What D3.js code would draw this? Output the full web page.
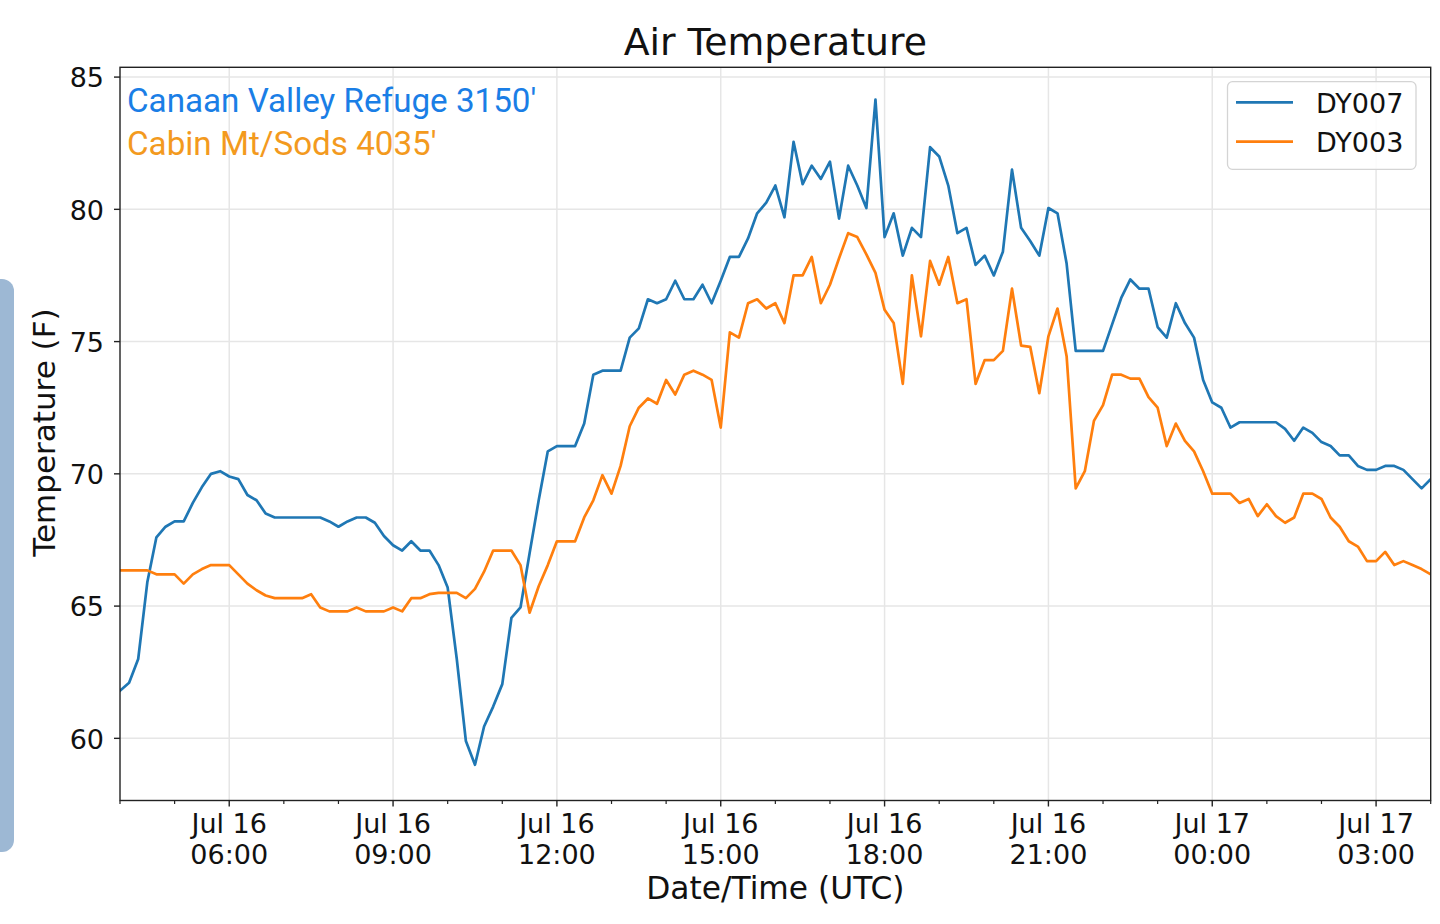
<!DOCTYPE html>
<html>
<head>
<meta charset="utf-8">
<script src="https://cdn.jsdelivr.net/npm/d3@7"></script>
<style>
  html, body { margin: 0; padding: 0; background: #fff; }
  svg { display: block; }
</style>
</head>
<body>
<svg id="chart" width="1440" height="924"></svg>
<script>
// ---------------- DATA ----------------
const startTime = "2019-07-16T04:00:00Z";   // first reading (UTC)
const stepMinutes = 10;                     // logger interval
const seriesNames = ["DY007", "DY003"];
const siteLabels = ["Canaan Valley Refuge 3150'", "Cabin Mt/Sods 4035'"];

const dy007 = [
  61.8, 62.1, 63.0, 65.9, 67.6, 68.0, 68.2, 68.2, 68.9, 69.5,
  70.0, 70.1, 69.9, 69.8, 69.2, 69.0, 68.5, 68.35, 68.35, 68.35,
  68.35, 68.35, 68.35, 68.2, 68.0, 68.2, 68.35, 68.35, 68.15, 67.65,
  67.3, 67.1, 67.45, 67.1, 67.1, 66.55, 65.7, 63.0, 59.9, 59.0,
  60.45, 61.2, 62.05, 64.55, 64.95, 67.0, 69.0, 70.85, 71.05, 71.05,
  71.05, 71.9, 73.75, 73.9, 73.9, 73.9, 75.15, 75.5, 76.6, 76.45,
  76.6, 77.3, 76.6, 76.6, 77.15, 76.45, 77.3, 78.2, 78.2, 78.9,
  79.85, 80.25, 80.9, 79.7, 82.55, 80.95, 81.65, 81.15, 81.8, 79.65,
  81.65, 80.9, 80.05, 84.15, 78.95, 79.85, 78.25, 79.3, 78.95, 82.35,
  82.0, 80.9, 79.1, 79.3, 77.9, 78.25, 77.5, 78.4, 81.5, 79.3,
  78.8, 78.25, 80.05, 79.85, 77.95, 74.65, 74.65, 74.65, 74.65, 75.65,
  76.65, 77.35, 77.0, 77.0, 75.55, 75.15, 76.45, 75.7, 75.15, 73.55,
  72.7, 72.5, 71.75, 71.95, 71.95, 71.95, 71.95, 71.95, 71.7, 71.25,
  71.75, 71.55, 71.2, 71.05, 70.7, 70.7, 70.3, 70.15, 70.15, 70.3,
  70.3, 70.15, 69.8, 69.45, 69.8
];

const dy003 = [
  66.35, 66.35, 66.35, 66.35, 66.2, 66.2, 66.2, 65.85, 66.2, 66.4,
  66.55, 66.55, 66.55, 66.2, 65.85, 65.6, 65.4, 65.3, 65.3, 65.3,
  65.3, 65.45, 64.95, 64.8, 64.8, 64.8, 64.95, 64.8, 64.8, 64.8,
  64.95, 64.8, 65.3, 65.3, 65.45, 65.5, 65.5, 65.5, 65.3, 65.65,
  66.3, 67.1, 67.1, 67.1, 66.55, 64.75, 65.75, 66.55, 67.45, 67.45,
  67.45, 68.35, 69.0, 69.95, 69.25, 70.3, 71.8, 72.5, 72.85, 72.65,
  73.55, 73.0, 73.75, 73.9, 73.75, 73.55, 71.75, 75.35, 75.15, 76.45,
  76.6, 76.25, 76.45, 75.7, 77.5, 77.5, 78.2, 76.45, 77.15, 78.15,
  79.1, 78.95, 78.3, 77.6, 76.2, 75.7, 73.4, 77.5, 75.2, 78.05,
  77.15, 78.2, 76.45, 76.6, 73.4, 74.3, 74.3, 74.65, 77.0, 74.85,
  74.8, 73.05, 75.2, 76.25, 74.45, 69.45, 70.1, 72.0, 72.6, 73.75,
  73.75, 73.6, 73.6, 72.9, 72.5, 71.05, 71.9, 71.25, 70.85, 70.1,
  69.25, 69.25, 69.25, 68.9, 69.05, 68.4, 68.85, 68.4, 68.15, 68.35,
  69.25, 69.25, 69.05, 68.35, 68.0, 67.45, 67.25, 66.7, 66.7, 67.05,
  66.55, 66.7, 66.55, 66.4, 66.2
];

const yTicks = [60, 65, 70, 75, 80, 85];
const xDomain = ["2019-07-16T04:00:00Z", "2019-07-17T04:00:00Z"];
const yDomain = [57.65, 85.37];

// ---------------- LAYOUT ----------------
const svg = d3.select("#chart");
const L = 120, R = 1430.7, T = 67.3, B = 800.5;
const colors = ["#1f77b4", "#ff7f0e"];
const textColors = ["#1a7ee6", "#f39a1e"];
const font = "'DejaVu Sans', sans-serif";

const t0 = new Date(startTime);
const times = dy007.map((_, i) => new Date(t0.getTime() + i * stepMinutes * 60000));

const x = d3.scaleUtc().domain(xDomain.map(d => new Date(d))).range([L, R]);
const y = d3.scaleLinear().domain(yDomain).range([B, T]);

// left decorative tab (screen artifact)
svg.append("rect").attr("x", -20).attr("y", 279).attr("width", 34).attr("height", 573)
  .attr("rx", 12).attr("fill", "#9db8d4");

// grid
const majorX = x.ticks(d3.utcHour.every(3));
const minorX = x.ticks(d3.utcHour.every(1)).filter(d => d.getUTCHours() % 3 !== 0);

const grid = svg.append("g");
grid.selectAll("line.gx").data(majorX).join("line")
  .attr("x1", d => x(d)).attr("x2", d => x(d)).attr("y1", T).attr("y2", B)
  .attr("stroke", "#e6e6e6").attr("stroke-width", 1.5);
grid.selectAll("line.gy").data(yTicks).join("line")
  .attr("x1", L).attr("x2", R).attr("y1", d => y(d)).attr("y2", d => y(d))
  .attr("stroke", "#e6e6e6").attr("stroke-width", 1.5);

// lines
const series = [dy007, dy003];
const line = d3.line().x((d, i) => x(times[i])).y(d => y(d));
svg.append("clipPath").attr("id", "clip").append("rect")
  .attr("x", L).attr("y", T).attr("width", R - L).attr("height", B - T);
svg.append("g").attr("clip-path", "url(#clip)")
  .selectAll("path").data(series).join("path")
  .attr("d", d => line(d))
  .attr("fill", "none")
  .attr("stroke", (d, i) => colors[i])
  .attr("stroke-width", 2.7)
  .attr("stroke-linejoin", "round")
  .attr("stroke-linecap", "square");

// frame
svg.append("rect").attr("x", L).attr("y", T).attr("width", R - L).attr("height", B - T)
  .attr("fill", "none").attr("stroke", "#222").attr("stroke-width", 1.4);

// x axis
const xAxis = svg.append("g");
xAxis.selectAll("line.maj").data(majorX).join("line")
  .attr("x1", d => x(d)).attr("x2", d => x(d)).attr("y1", B).attr("y2", B + 6)
  .attr("stroke", "#222").attr("stroke-width", 1.4);
xAxis.selectAll("line.min").data(minorX).join("line")
  .attr("x1", d => x(d)).attr("x2", d => x(d)).attr("y1", B).attr("y2", B + 3.5)
  .attr("stroke", "#222").attr("stroke-width", 1.2);
const fmtDay = d3.utcFormat("%b %d"), fmtHr = d3.utcFormat("%H:%M");
const xl = xAxis.selectAll("text").data(majorX).join("text")
  .attr("text-anchor", "middle")
  .attr("font-family", font).attr("font-size", 27).attr("fill", "#111");
xl.append("tspan").attr("x", d => x(d)).attr("y", 832.5).text(d => fmtDay(d));
xl.append("tspan").attr("x", d => x(d)).attr("y", 863.5).text(d => fmtHr(d));

// y axis
const yAxis = svg.append("g");
yAxis.selectAll("line").data(yTicks).join("line")
  .attr("x1", L - 6).attr("x2", L).attr("y1", d => y(d)).attr("y2", d => y(d))
  .attr("stroke", "#222").attr("stroke-width", 1.4);
yAxis.selectAll("text").data(yTicks).join("text")
  .attr("x", 104).attr("y", d => y(d)).attr("dy", "0.38em")
  .attr("text-anchor", "end")
  .attr("font-family", font).attr("font-size", 27).attr("fill", "#111")
  .text(d => d);

// titles
svg.append("text").attr("x", (L + R) / 2).attr("y", 55)
  .attr("text-anchor", "middle").attr("font-family", font).attr("font-size", 37.8)
  .attr("fill", "#111").text("Air Temperature");
svg.append("text").attr("x", (L + R) / 2).attr("y", 899)
  .attr("text-anchor", "middle").attr("font-family", font).attr("font-size", 31.3)
  .attr("fill", "#111").text("Date/Time (UTC)");
svg.append("text").attr("transform", "translate(55,432.5) rotate(-90)")
  .attr("text-anchor", "middle").attr("font-family", font).attr("font-size", 31)
  .attr("fill", "#111").text("Temperature (F)");

// site annotations
svg.selectAll("text.site").data(siteLabels).join("text")
  .attr("class", "site")
  .attr("x", 127).attr("y", (d, i) => 111.5 + i * 43)
  .attr("font-family", "Roboto, sans-serif").attr("font-size", 33.2)
  .attr("fill", (d, i) => textColors[i]).text(d => d);

// legend
const lg = svg.append("g");
lg.append("rect").attr("x", 1227.5).attr("y", 81.7).attr("width", 188.5).attr("height", 87.6)
  .attr("rx", 5).attr("fill", "#fff").attr("fill-opacity", 0.85)
  .attr("stroke", "#d4d4d4").attr("stroke-width", 1.3);
seriesNames.forEach((name, i) => {
  const yy = 102.3 + i * 39.4;
  lg.append("line").attr("x1", 1236).attr("x2", 1293).attr("y1", yy).attr("y2", yy)
    .attr("stroke", colors[i]).attr("stroke-width", 2.7);
  lg.append("text").attr("x", 1316).attr("y", yy + 10.2)
    .attr("font-family", font).attr("font-size", 27).attr("fill", "#111").text(name);
});
</script>
</body>
</html>
